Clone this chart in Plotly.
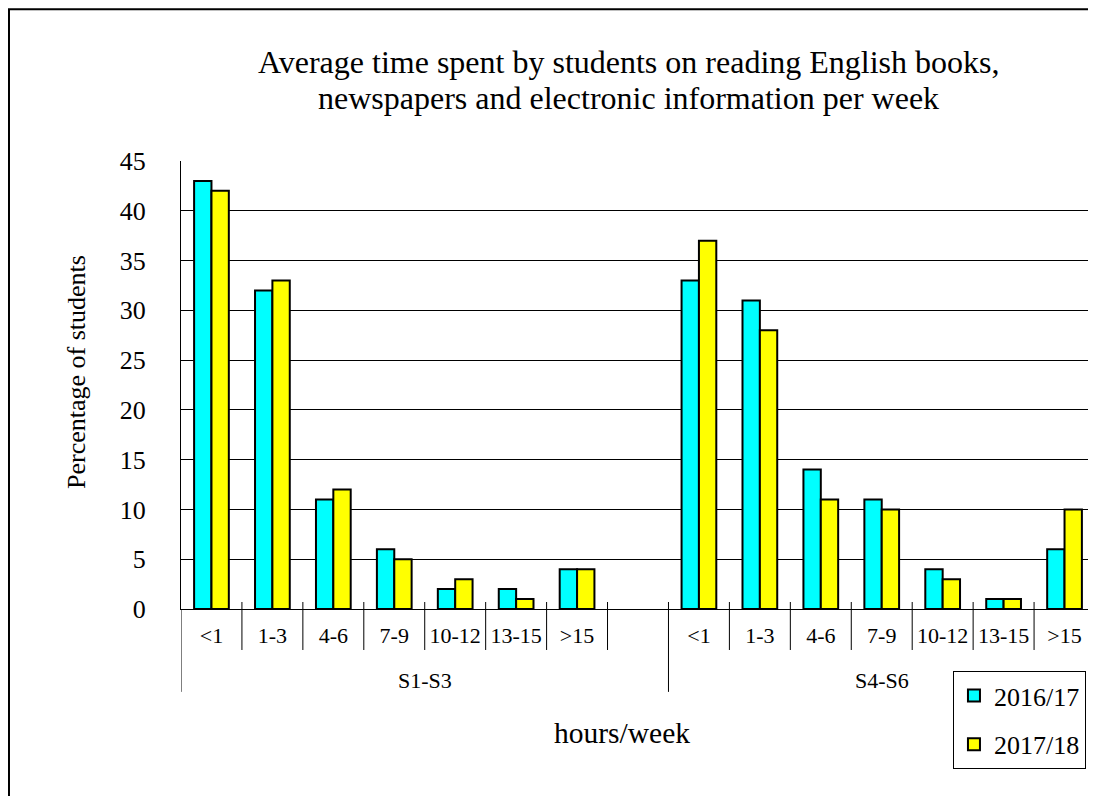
import plotly.graph_objects as go

# --------------------------------------------------
# DATOS
# --------------------------------------------------
horas = ["<1", "1-3", "4-6", "7-9", "10-12", "13-15", ">15"]
grupos = ["S1-S3", "S4-S6"]

s1s3_2016 = [43, 32, 11, 6, 2, 2, 4]
s1s3_2017 = [42, 33, 12, 5, 3, 1, 4]
s4s6_2016 = [33, 31, 14, 11, 4, 1, 6]
s4s6_2017 = [37, 28, 11, 10, 3, 1, 10]

titulo = [
    "Average time spent by students on reading English books,",
    "newspapers and electronic information per week",
]

FONT = "Liberation Serif"
CYAN = "#00FFFF"
YELLOW = "#FFFF00"
NEGRO = dict(family=FONT, color="black")

# posiciones: el grupo S1-S3 tiene un hueco vacio al final
n = len(horas)
x_g1 = list(range(n))
x_g2 = [n + 1 + i for i in range(n)]
x_all = x_g1 + x_g2
n_slots = 2 * n + 1

fig = go.Figure()

fig.add_trace(go.Bar(
    x=x_all, y=s1s3_2016 + s4s6_2016, name="2016/17",
    legendgroup="a",
    marker=dict(color=CYAN, line=dict(color="black", width=2)),
))
fig.add_trace(go.Bar(
    x=x_all, y=s1s3_2017 + s4s6_2017, name="2017/18",
    legendgroup="b",
    marker=dict(color=YELLOW, line=dict(color="black", width=2)),
))

# --------------------------------------------------
# lineas divisorias del eje x
# --------------------------------------------------
shapes = []
for k in range(1, n_slots):
    b = k - 0.5
    largo = -0.185 if k == n + 1 else -0.0915
    shapes.append(dict(type="line", xref="x", yref="paper",
                       x0=b, x1=b, y0=0.0156, y1=largo,
                       line=dict(color="black", width=1)))
# borde izquierdo del grupo
shapes.append(dict(type="line", xref="x", yref="paper",
                   x0=-0.5, x1=-0.5, y0=0, y1=-0.185,
                   line=dict(color="black", width=1)))
# marco exterior
shapes.append(dict(type="rect", xref="paper", yref="paper",
                   x0=-0.1882, x1=1.02, y0=-0.6, y1=1.339,
                   line=dict(color="black", width=2)))


def texto(t, x, y, size, xref="paper", angle=0):
    return dict(text=t, x=x, xref=xref, y=y, yref="paper",
                xanchor="center", yanchor="middle", textangle=angle,
                showarrow=False, font=dict(NEGRO, size=size))


annotations = [
    texto(titulo[0], 0.490, 1.221, 32),
    texto(titulo[1], 0.490, 1.1406, 32),
    texto(grupos[0], (x_g1[0] + x_g1[-1] + 1) / 2, -0.1585, 22, xref="x"),
    texto(grupos[1], (x_g2[0] + x_g2[-1]) / 2, -0.1585, 22, xref="x"),
    texto("hours/week", 0.483, -0.2768, 29.5),
    texto("Percentage of students", -0.1149, 0.529, 26, angle=-90),
]

fig.update_layout(
    width=1088, height=788,
    margin=dict(l=173, r=1, t=153, b=187),
    paper_bgcolor="white", plot_bgcolor="white",
    barmode="group", bargap=0.43, bargroupgap=0,
    font=NEGRO,
    legend=dict(
        x=0.8446, xanchor="left", y=-0.1384, yanchor="top",
        bgcolor="white", bordercolor="black", borderwidth=1,
        font=dict(NEGRO, size=26),
        tracegroupgap=12,
    ),
    shapes=shapes,
    annotations=annotations,
)

fig.update_xaxes(
    range=[-0.5, n_slots - 0.5],
    tickvals=x_all, ticktext=horas + horas,
    ticks="outside", ticklen=7, tickcolor="rgba(0,0,0,0)",
    tickfont=dict(NEGRO, size=22),
    showgrid=False, zeroline=False,
    showline=True, linecolor="black", linewidth=1,
)
fig.update_yaxes(
    range=[0, 45], dtick=5,
    ticks="outside", ticklen=29, tickcolor="rgba(0,0,0,0)",
    tickfont=dict(NEGRO, size=26),
    showgrid=True, gridcolor="black", gridwidth=1,
    zeroline=False,
    showline=True, linecolor="black", linewidth=1,
)

fig.write_html("out.html")
